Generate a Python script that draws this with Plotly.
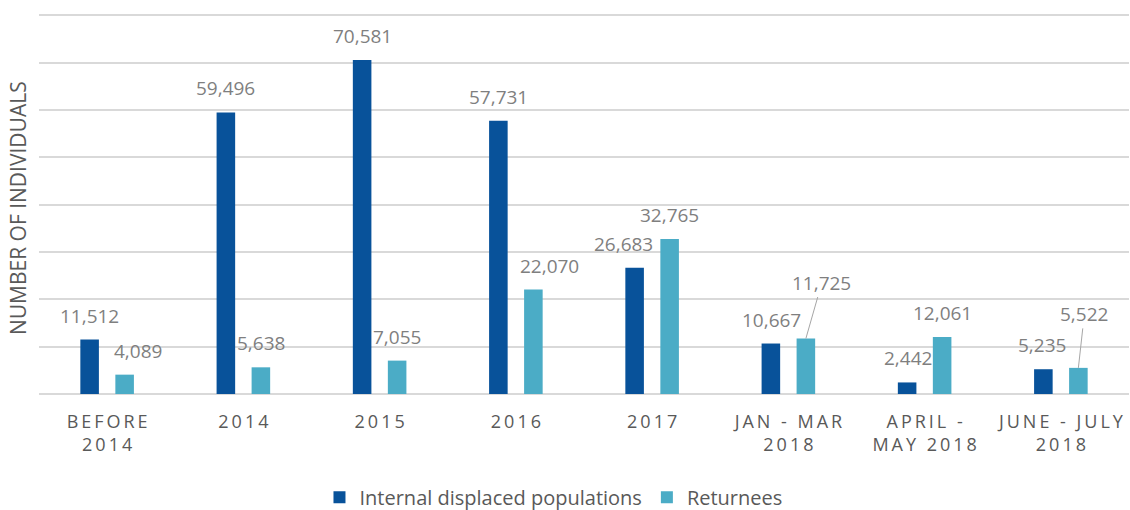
import plotly.graph_objects as go

# ---- data ----
categories = ["BEFORE\n2014", "2014", "2015", "2016", "2017",
              "JAN - MAR\n2018", "APRIL -\nMAY 2018", "JUNE - JULY\n2018"]
idp_values = [11512, 59496, 70581, 57731, 26683, 10667, 2442, 5235]
returnee_values = [4089, 5638, 7055, 22070, 32765, 11725, 12061, 5522]
series_names = ["Internal displaced populations", "Returnees"]

# ---- styles ----
IDP_COLOR = "#08529a"
RET_COLOR = "#4bacc6"
LABEL_COLOR = "#7f7f7f"
TEXT_COLOR = "#595959"
GRID_COLOR = "#d9d9d9"
FONT = "Open Sans"

# per-label position tweaks (pixels)
idp_label_dx = [0, 0, 0, 0, -11, 1, 1, -1]
ret_label_dx = [13, 0, 0, 16, 0, 0, 0, 0]
ret_leader = {5: (16, -56), 7: (6, -54)}
BAR_OFFSET = 17.5
LABEL_DY = 24
LABEL_SIZE = 19


def spaced(label):
    lines = label.split("\n")
    return "<br>".join("\u2009".join(list(line)) for line in lines)


tick_text = [spaced(c) for c in categories]
xcats = list(range(len(categories)))

fig = go.Figure()
fig.add_trace(go.Bar(x=xcats, y=idp_values, name=series_names[0],
                     marker=dict(color=IDP_COLOR, line=dict(width=0))))
fig.add_trace(go.Bar(x=xcats, y=returnee_values, name=series_names[1],
                     marker=dict(color=RET_COLOR, line=dict(width=0))))

annotations = []
for i, v in enumerate(idp_values):
    annotations.append(dict(x=xcats[i], y=v, xref="x", yref="y",
                            text=f"{v:,}", showarrow=False,
                            xshift=-BAR_OFFSET + idp_label_dx[i], yshift=LABEL_DY,
                            yanchor="middle",
                            font=dict(family=FONT, size=LABEL_SIZE, color=LABEL_COLOR)))
for i, v in enumerate(returnee_values):
    if i in ret_leader:
        ax, ay = ret_leader[i]
        annotations.append(dict(x=xcats[i], y=v, xref="x", yref="y",
                                text=f"{v:,}", showarrow=True, arrowhead=0,
                                arrowwidth=1, arrowcolor="#a6a6a6",
                                ax=ax, ay=ay, standoff=0,
                                xshift=BAR_OFFSET,
                                font=dict(family=FONT, size=LABEL_SIZE, color=LABEL_COLOR)))
    else:
        annotations.append(dict(x=xcats[i], y=v, xref="x", yref="y",
                                text=f"{v:,}", showarrow=False,
                                xshift=BAR_OFFSET + ret_label_dx[i], yshift=LABEL_DY,
                                yanchor="middle",
                                font=dict(family=FONT, size=LABEL_SIZE, color=LABEL_COLOR)))

annotations.append(dict(x=-0.019, y=0.49, xref="paper", yref="paper",
                        text="NUMBER OF INDIVIDUALS", textangle=-90,
                        showarrow=False, xanchor="center", yanchor="middle",
                        font=dict(family=FONT, size=21, color=TEXT_COLOR)))

fig.update_layout(
    width=1130, height=510,
    margin=dict(l=39, r=1, t=14, b=116, autoexpand=False),
    paper_bgcolor="white", plot_bgcolor="white",
    barmode="group", bargap=0.486, bargroupgap=0.47,
    showlegend=True,
    legend=dict(orientation="h", x=0.472, xanchor="center", y=-0.272, yanchor="middle",
                font=dict(family=FONT, size=20, color=TEXT_COLOR),
                traceorder="normal"),
    annotations=annotations,
    font=dict(family=FONT, color=TEXT_COLOR),
)
fig.update_xaxes(tickmode="array", tickvals=xcats, ticktext=tick_text,
                 tickfont=dict(family=FONT, size=18, color=TEXT_COLOR),
                 showgrid=False, showline=False, zeroline=False, ticks="",
                 ticklabelstandoff=15, automargin=False,
                 range=[-0.5, len(categories) - 0.5])
fig.update_yaxes(range=[0, 80300], tick0=0, dtick=10000, showticklabels=False,
                 showgrid=True, gridcolor=GRID_COLOR, gridwidth=1.5,
                 zeroline=True, zerolinecolor=GRID_COLOR, zerolinewidth=1.5,
                 showline=False, ticks="", automargin=False)

fig.write_html("out.html", config={"displayModeBar": False},
               post_script="document.body.style.margin='0';")
